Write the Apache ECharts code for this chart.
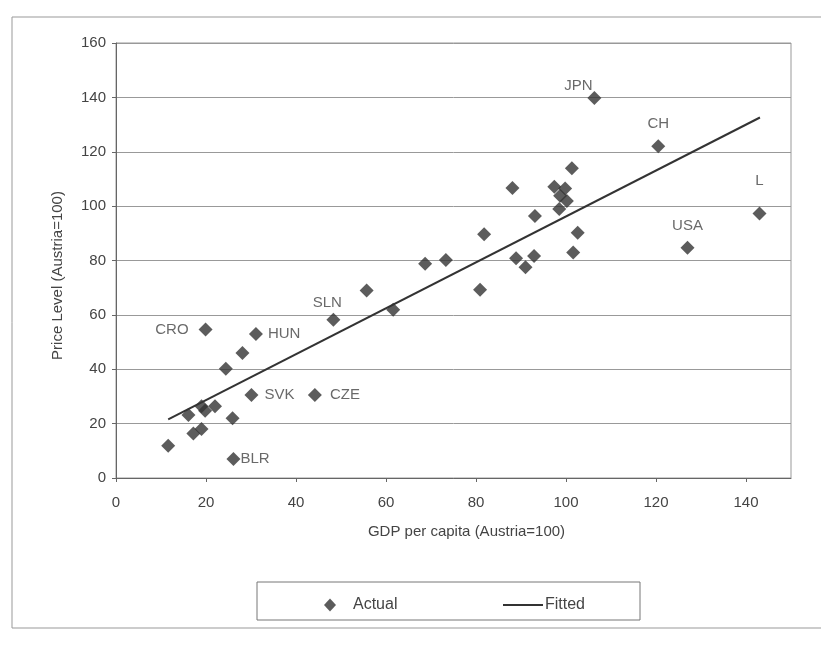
<!DOCTYPE html>
<html>
<head>
<meta charset="utf-8">
<script src="https://cdn.jsdelivr.net/npm/echarts@6/dist/echarts.min.js"></script>
<style>
  html, body { margin: 0; padding: 0; background: #fff; }
  #chart { width: 821px; height: 670px; }
</style>
</head>
<body>
<div id="chart"></div>
<script>
// GDP per capita vs price level, Austria = 100
const countries = ['', '', '', '', '', '', '', '', 'BLR', '', '', 'HUN', 'CRO', 'SVK', 'CZE', 'SLN',
  '', '', '', '', '', '', '', '', '', '', '', '', '', '', '', '', '', '', '', 'JPN', 'CH', 'USA', 'L'];
const gdp = [11.6, 16.1, 17.2, 19.0, 19.0, 19.8, 22.0, 25.9, 26.1, 24.4, 28.1, 31.1, 19.9, 30.1, 44.2, 48.3,
  55.7, 61.6, 68.7, 73.3, 80.9, 81.8, 88.1, 88.9, 91.0, 92.9, 93.1, 97.4, 99.8, 98.7, 100.2, 98.5,
  101.3, 102.6, 101.6, 106.3, 120.5, 127.0, 143.0];
const price = [11.9, 23.2, 16.4, 18.0, 26.4, 24.7, 26.4, 22.0, 7.0, 40.2, 46.0, 53.0, 54.6, 30.5, 30.5, 58.2,
  69.0, 61.9, 78.8, 80.2, 69.2, 89.7, 106.7, 80.8, 77.5, 81.7, 96.4, 107.1, 106.5, 103.8, 101.9, 98.9,
  113.9, 90.2, 82.9, 139.8, 122.0, 84.7, 97.3];
// fitted line end points
const fittedX = [11.6, 143.1];
const fittedY = [21.6, 132.6];

const textColor = '#444';
const font = 'Liberation Sans, Arial, sans-serif';

// where each country label sits relative to its marker
const labelPlace = {
  JPN: { position: 'top', offset: [-16, 4], distance: 2 },
  CH: { position: 'top', distance: 8 },
  L: { position: 'top', distance: 18 },
  USA: { position: 'top', distance: 7 },
  SLN: { position: 'top', offset: [-6, 0], distance: 2 },
  CRO: { position: 'left', distance: 10 },
  HUN: { position: 'right', distance: 5 },
  SVK: { position: 'right', distance: 6 },
  CZE: { position: 'right', distance: 8 },
  BLR: { position: 'right', distance: 0 }
};

const points = gdp.map((x, i) => {
  const name = countries[i];
  const item = { value: [x, price[i]], name: name };
  if (name) {
    item.label = Object.assign({ show: true, formatter: name }, labelPlace[name]);
  }
  return item;
});

const chart = echarts.init(document.getElementById('chart'));

chart.setOption({
  backgroundColor: '#fff',
  animation: false,
  textStyle: { fontFamily: font },
  graphic: [
    {
      type: 'rect',
      shape: { x: 12, y: 17, width: 830, height: 611 },
      style: { fill: 'none', stroke: '#999', lineWidth: 1 },
      z: -1
    },
    {
      type: 'rect',
      shape: { x: 257, y: 582, width: 383, height: 38 },
      style: { fill: '#fff', stroke: '#777', lineWidth: 1 }
    }
  ],
  legend: [
    {
      data: [{ name: 'Actual', icon: 'diamond' }],
      left: 319,
      top: 592,
      itemWidth: 12,
      itemHeight: 13,
      textStyle: { fontSize: 16, color: textColor, fontFamily: font, padding: [0, 0, 0, 12] }
    },
    {
      data: [{ name: 'Fitted', icon: 'path://M0 0H40V2H0Z' }],
      left: 498,
      top: 592,
      itemWidth: 42,
      itemHeight: 2,
      textStyle: { fontSize: 16, color: textColor, fontFamily: font, padding: [0, 0, 0, -4] }
    }
  ],
  grid: {
    left: 116,
    right: 30,
    top: 43,
    bottom: 192,
    show: true,
    borderColor: '#999',
    borderWidth: 1
  },
  xAxis: {
    type: 'value',
    min: 0,
    max: 150,
    interval: 20,
    name: 'GDP per capita (Austria=100)',
    nameLocation: 'middle',
    nameGap: 46,
    nameTextStyle: { fontSize: 15, color: textColor, padding: [0, 0, 0, 26] },
    axisLine: { lineStyle: { color: '#666' } },
    axisTick: { show: true, length: 4, lineStyle: { color: '#666' } },
    axisLabel: { fontSize: 15, color: textColor, margin: 17, showMaxLabel: false },
    splitLine: { show: false }
  },
  yAxis: {
    type: 'value',
    min: 0,
    max: 160,
    interval: 20,
    name: 'Price Level (Austria=100)',
    nameLocation: 'middle',
    nameGap: 51,
    nameTextStyle: { fontSize: 15, color: textColor, padding: [0, 30, 0, 0] },
    axisLine: { show: true, lineStyle: { color: '#666' } },
    axisTick: { show: true, length: 4, lineStyle: { color: '#666' } },
    axisLabel: { fontSize: 15, color: textColor, margin: 10 },
    splitLine: { show: true, lineStyle: { color: '#999', width: 1 } }
  },
  series: [
    {
      name: 'Actual',
      type: 'scatter',
      symbol: 'diamond',
      symbolSize: 14,
      itemStyle: { color: '#333' },
      label: { color: textColor, fontSize: 15, fontFamily: font },
      data: points
    },
    {
      name: 'Fitted',
      type: 'line',
      symbol: 'none',
      lineStyle: { color: '#333', width: 2 },
      itemStyle: { color: '#333' },
      data: fittedX.map((x, i) => [x, fittedY[i]])
    }
  ]
});
</script>
</body>
</html>
